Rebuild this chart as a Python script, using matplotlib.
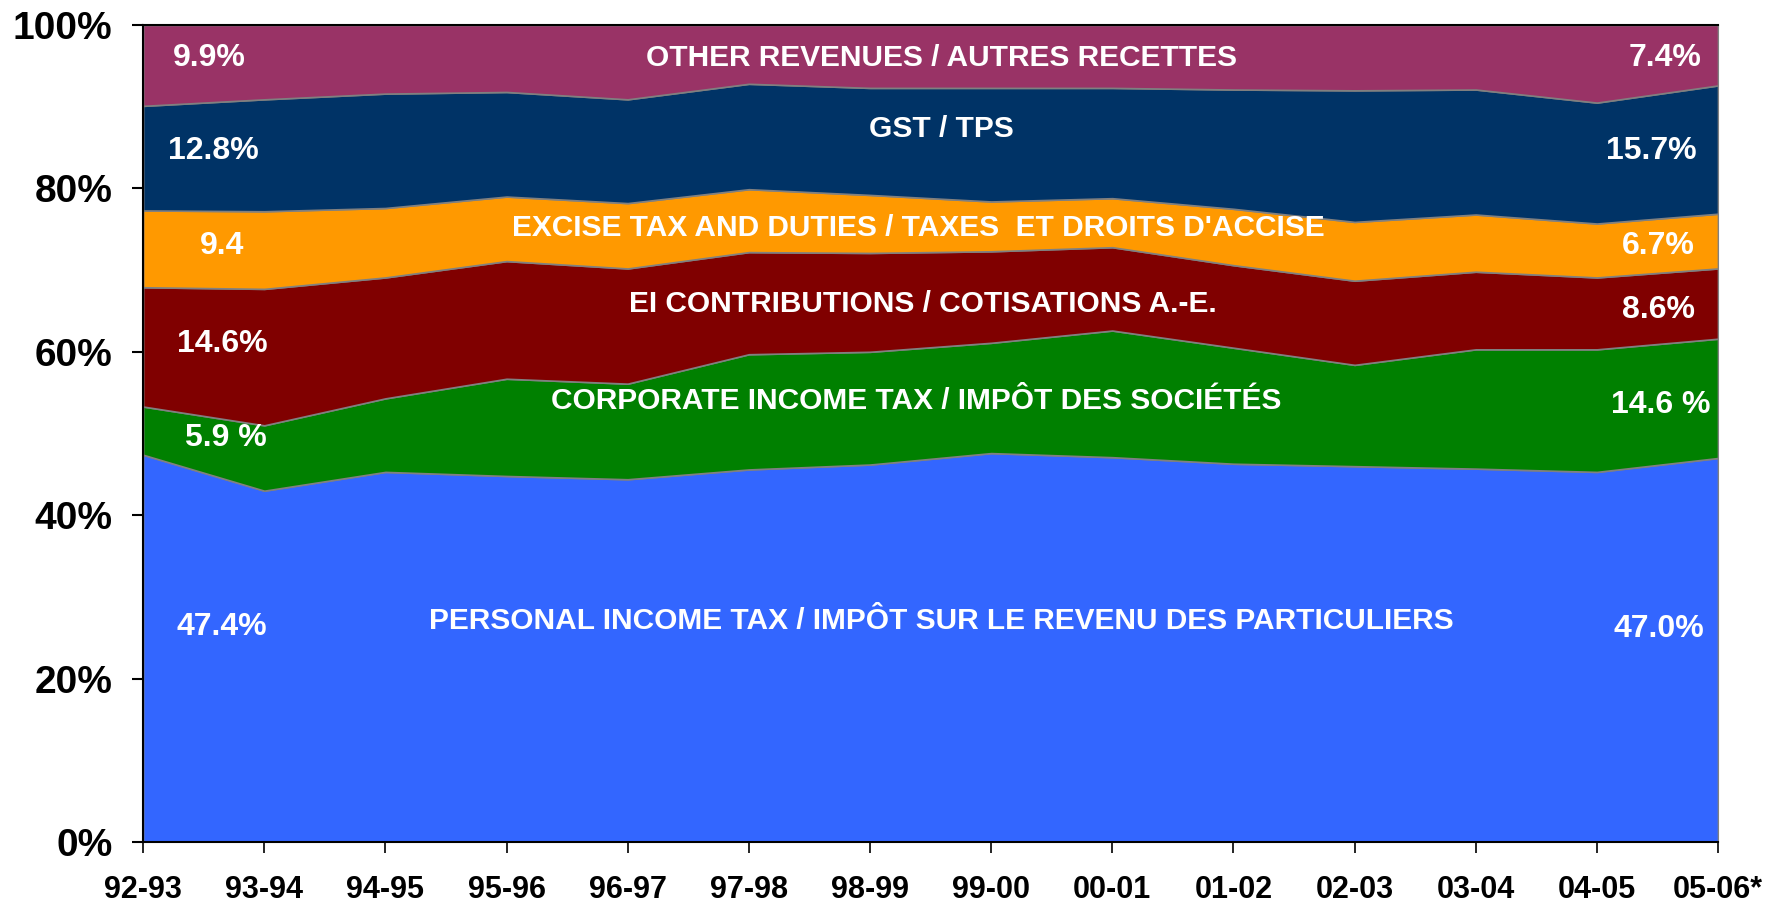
import numpy as np
import matplotlib
matplotlib.use("Agg")
import matplotlib.pyplot as plt

plt.rcParams['font.family'] = ['Liberation Sans', 'DejaVu Sans']

years = ["92-93", "93-94", "94-95", "95-96", "96-97", "97-98", "98-99",
         "99-00", "00-01", "01-02", "02-03", "03-04", "04-05", "05-06*"]

# shares of total revenue (%)
personal = [47.4, 43.0, 45.3, 44.8, 44.4, 45.6, 46.2, 47.6, 47.1, 46.3, 46.0, 45.7, 45.3, 47.0]
corporate = [5.9, 8.0, 9.0, 11.9, 11.7, 14.1, 13.8, 13.5, 15.5, 14.2, 12.4, 14.6, 15.0, 14.6]
ei = [14.6, 16.7, 14.8, 14.4, 14.1, 12.5, 12.1, 11.2, 10.2, 10.1, 10.3, 9.5, 8.8, 8.6]
excise = [9.4, 9.5, 8.5, 7.9, 8.0, 7.7, 7.1, 6.1, 6.0, 6.9, 7.2, 7.0, 6.6, 6.7]
gst = [12.8, 13.7, 14.0, 12.8, 12.7, 12.9, 13.1, 13.9, 13.5, 14.6, 16.1, 15.3, 14.8, 15.7]
other = [9.9, 9.1, 8.4, 8.2, 9.1, 7.2, 7.7, 7.7, 7.7, 7.9, 8.0, 7.9, 9.5, 7.4]

names = ["PERSONAL INCOME TAX / IMPÔT SUR LE REVENU DES PARTICULIERS",
         "CORPORATE INCOME TAX / IMPÔT DES SOCIÉTÉS",
         "EI CONTRIBUTIONS / COTISATIONS A.-E.",
         "EXCISE TAX AND DUTIES / TAXES  ET DROITS D'ACCISE",
         "GST / TPS",
         "OTHER REVENUES / AUTRES RECETTES"]
colors = ["#3366FF", "#008000", "#800000", "#FF9900", "#003366", "#993366"]

first_labels = ["47.4%", "5.9 %", "14.6%", "9.4", "12.8%", "9.9%"]
last_labels = ["47.0%", "14.6 %", "8.6%", "6.7%", "15.7%", "7.4%"]

series = [personal, corporate, ei, excise, gst, other]
x = np.arange(len(years))

fig = plt.figure(figsize=(17.82, 9.05), dpi=100)
ax = fig.add_axes([0.0803, 0.0696, 0.8838, 0.9028])

ax.stackplot(x, *series, colors=colors, edgecolor="#808080", linewidth=1.2)

ax.set_xlim(0, len(years) - 1)
ax.set_ylim(0, 100)
ax.set_yticks([0, 20, 40, 60, 80, 100])
ax.set_yticklabels([f"{v}%" for v in [0, 20, 40, 60, 80, 100]],
                   fontsize=28, fontweight="bold")
ax.set_xticks(x)
ax.set_xticklabels(years, fontsize=22, fontweight="bold")
ax.tick_params(axis="y", length=8, width=1.5, pad=14)
ax.tick_params(axis="x", length=8, width=1.2, pad=16)

for side in ["left", "bottom", "top"]:
    ax.spines[side].set_linewidth(1.5)
    ax.spines[side].set_color("black")
ax.spines["right"].set_color("#808080")

# label positions inside each band (x in category units, y in %)
first_x = [0.65, 0.68, 0.65, 0.65, 0.58, 0.55]
first_y = [26.3, 49.5, 61.0, 73.0, 84.6, 96.0]
last_x = [12.51, 12.53, 12.51, 12.51, 12.45, 12.56]
last_y = [26.1, 53.5, 65.1, 72.9, 84.6, 96.0]
name_x = [6.59, 6.38, 6.44, 6.4, 6.59, 6.59]
name_y = [27.0, 54.0, 65.9, 75.1, 87.3, 96.0]

for i in range(len(series)):
    ax.text(first_x[i], first_y[i], first_labels[i], color="white", fontsize=23,
            fontweight="bold", ha="center", va="center")
    ax.text(last_x[i], last_y[i], last_labels[i], color="white", fontsize=23,
            fontweight="bold", ha="center", va="center")
    ax.text(name_x[i], name_y[i], names[i], color="white", fontsize=21.5,
            fontweight="bold", ha="center", va="center")

fig.savefig("out.png", dpi=100)
